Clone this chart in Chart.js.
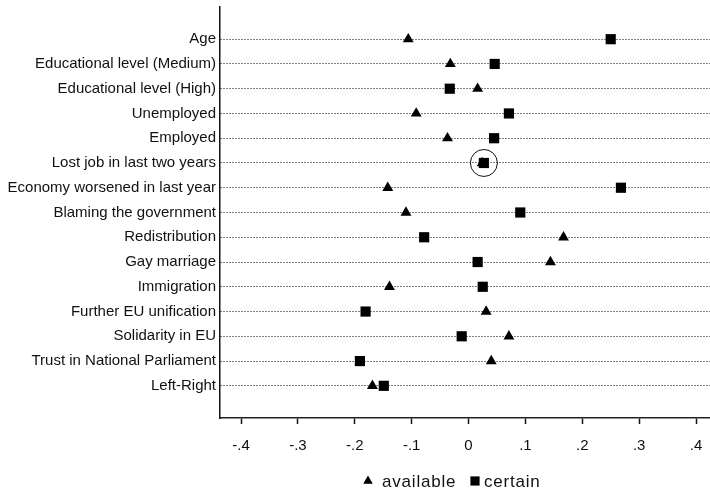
<!DOCTYPE html>
<html>
<head>
<meta charset="utf-8">
<script src="https://cdn.jsdelivr.net/npm/chart.js@4/dist/chart.umd.min.js"></script>
<style>
  html, body { margin: 0; padding: 0; background: #fff; }
  #wrap { width: 710px; height: 490px; }
</style>
</head>
<body>
<div id="wrap"><canvas id="c" width="710" height="490"></canvas></div>
<script>
// Coefficients per predictor, for the two outcome groups
const categories = [
  'Age',
  'Educational level (Medium)',
  'Educational level (High)',
  'Unemployed',
  'Employed',
  'Lost job in last two years',
  'Economy worsened in last year',
  'Blaming the government',
  'Redistribution',
  'Gay marriage',
  'Immigration',
  'Further EU unification',
  'Solidarity in EU',
  'Trust in National Parliament',
  'Left-Right'
];
const available = [-0.106, -0.032, 0.016, -0.092, -0.037, 0.024, -0.142, -0.110, 0.167, 0.144, -0.139, 0.031, 0.071, 0.040, -0.169];
const certain   = [ 0.250,  0.046, -0.033, 0.071,  0.045, 0.027,  0.268,  0.091, -0.078, 0.016,  0.025, -0.181, -0.012, -0.191, -0.149];
const seriesNames = ['available', 'certain'];
const xTickValues = [-0.4, -0.3, -0.2, -0.1, 0, 0.1, 0.2, 0.3, 0.4];
const xTickLabels = ['-.4', '-.3', '-.2', '-.1', '0', '.1', '.2', '.3', '.4'];
const highlighted = ['Lost job in last two years'];

const FONT = '"Liberation Sans", Arial, sans-serif';
const INK = '#000';

const toPoints = vals => vals.map((v, i) => ({ x: v, y: i }));

// Key drawn under the plot: marker + series name
const markerKey = {
  id: 'markerKey',
  afterDraw(chart, _args, o) {
    const ctx = chart.ctx;
    ctx.save();
    ctx.font = o.font;
    if ('letterSpacing' in ctx) ctx.letterSpacing = o.letterSpacing;
    ctx.textBaseline = 'alphabetic';
    ctx.textAlign = 'left';
    o.items.forEach(it => {
      const ds = chart.data.datasets[it.dataset];
      ctx.fillStyle = ds.backgroundColor;
      ctx.strokeStyle = ds.borderColor;
      Chart.helpers.drawPoint(ctx, { pointStyle: ds.pointStyle, radius: it.radius, borderWidth: 0, rotation: 0 }, it.markerX, o.markerY);
      ctx.fillStyle = o.color;
      ctx.fillText(ds.label, it.textX, o.baseline);
    });
    ctx.restore();
  }
};

new Chart(document.getElementById('c'), {
  type: 'scatter',
  data: {
    datasets: [
      {
        label: seriesNames[0],
        data: toPoints(available),
        pointStyle: 'triangle',
        pointRadius: 6.3,
        backgroundColor: INK,
        borderColor: INK,
        borderWidth: 0,
        order: 2
      },
      {
        label: seriesNames[1],
        data: toPoints(certain),
        pointStyle: 'rect',
        pointRadius: 7.2,
        backgroundColor: INK,
        borderColor: INK,
        borderWidth: 0,
        order: 1
      },
      {
        label: 'highlight',
        data: highlighted.map(name => {
          const i = categories.indexOf(name);
          return { x: certain[i], y: i };
        }),
        pointStyle: 'circle',
        pointRadius: 13.5,
        backgroundColor: 'rgba(0,0,0,0)',
        borderColor: '#111',
        borderWidth: 1,
        order: 0
      }
    ]
  },
  options: {
    responsive: false,
    animation: false,
    events: [],
    devicePixelRatio: 1,
    layout: { autoPadding: false, padding: { top: 7, left: 0, right: 0, bottom: 0 } },
    plugins: {
      legend: { display: false },
      tooltip: { enabled: false },
      markerKey: {
        font: '17px ' + FONT,
        letterSpacing: '0.8px',
        color: '#111',
        markerY: 481,
        baseline: 487,
        items: [
          { dataset: 0, markerX: 368, textX: 382, radius: 5.5 },
          { dataset: 1, markerX: 475, textX: 484, radius: 6.5 }
        ]
      }
    },
    scales: {
      x: {
        type: 'linear',
        min: -0.437,
        max: 0.4246,
        afterBuildTicks: s => { s.ticks = xTickValues.map(v => ({ value: v })); },
        afterFit: s => { s.height = 72; s.paddingLeft = 0; s.paddingRight = 0; },
        ticks: {
          callback: (v, i) => xTickLabels[i],
          font: { family: FONT, size: 15 },
          color: '#111',
          padding: 13,
          maxRotation: 0,
          autoSkip: false
        },
        grid: { drawOnChartArea: false, drawTicks: true, tickLength: 6, tickWidth: 1.5, tickColor: '#111', color: '#111' },
        border: { display: true, color: '#222', width: 1.5 }
      },
      y: {
        type: 'linear',
        reverse: true,
        min: -1.3,
        max: 15.3,
        afterBuildTicks: s => { s.ticks = categories.map((_, i) => ({ value: i })); },
        afterFit: s => { s.width = 220; s.paddingTop = 0; s.paddingBottom = 0; },
        ticks: {
          callback: v => categories[v],
          font: { family: FONT, size: 15 },
          color: '#111',
          padding: 4,
          autoSkip: false
        },
        grid: { drawTicks: false, color: '#000', lineWidth: 1 },
        border: { display: true, color: '#111', width: 1.5, dash: [1, 2] }
      }
    }
  },
  plugins: [markerKey]
});
</script>
</body>
</html>
